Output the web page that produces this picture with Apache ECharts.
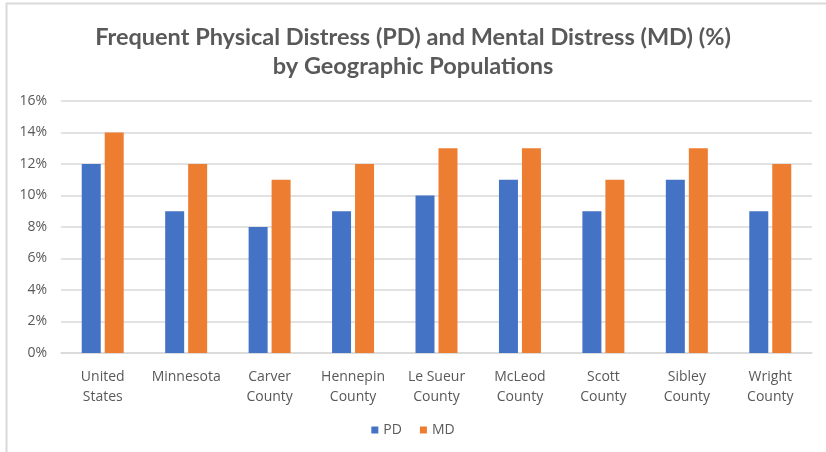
<!DOCTYPE html>
<html>
<head>
<meta charset="utf-8">
<script src="https://cdn.jsdelivr.net/npm/echarts@6/dist/echarts.min.js"></script>
<style>
  html, body { margin: 0; padding: 0; background: #fff; }
  #chart { width: 826px; height: 452px; }
</style>
</head>
<body>
<div id="chart"></div>
<script>
// Geographic populations and their distress rates (%)
const categories = ['United\nStates', 'Minnesota', 'Carver\nCounty', 'Hennepin\nCounty', 'Le Sueur\nCounty', 'McLeod\nCounty', 'Scott\nCounty', 'Sibley\nCounty', 'Wright\nCounty'];
const pdValues = [12, 9, 8, 9, 10, 11, 9, 11, 9];
const mdValues = [14, 12, 11, 12, 13, 13, 11, 13, 12];
const yTicks = { min: 0, max: 16, interval: 2 };

const textColor = '#595959';
const chart = echarts.init(document.getElementById('chart'));
chart.setOption({
  backgroundColor: '#ffffff',
  animation: false,
  title: {
    text: 'Frequent Physical Distress (PD) and Mental Distress (MD) (%)\nby Geographic Populations',
    left: 'center',
    top: 18,
    textStyle: {
      fontFamily: 'Lato',
      fontWeight: 'bold',
      fontSize: 23.5,
      lineHeight: 29,
      color: textColor
    }
  },
  legend: {
    bottom: 10,
    left: 'center',
    itemWidth: 7,
    itemHeight: 7,
    itemGap: 18,
    icon: 'rect',
    textStyle: { fontFamily: 'Open Sans', fontSize: 14, color: textColor }
  },
  grid: { left: 61, right: 14, top: 101, bottom: 99 },
  xAxis: {
    type: 'category',
    data: categories,
    axisLine: { lineStyle: { color: '#d9d9d9', width: 1.5 } },
    axisTick: { show: false },
    axisLabel: {
      interval: 0,
      margin: 14,
      lineHeight: 20,
      fontFamily: 'Open Sans',
      fontSize: 14,
      color: textColor
    }
  },
  yAxis: {
    type: 'value',
    min: yTicks.min,
    max: yTicks.max,
    interval: yTicks.interval,
    axisLine: { show: false },
    axisTick: { show: false },
    splitLine: { lineStyle: { color: '#d9d9d9', width: 1.5 } },
    axisLabel: {
      margin: 14,
      fontFamily: 'Open Sans',
      fontSize: 14,
      color: textColor,
      formatter: v => v + '%'
    }
  },
  series: [
    {
      name: 'PD', type: 'bar', data: pdValues,
      barWidth: 19, barGap: '21%',
      itemStyle: { color: '#4472C4' }
    },
    {
      name: 'MD', type: 'bar', data: mdValues,
      barWidth: 19,
      itemStyle: { color: '#ED7D31' }
    }
  ],
  graphic: [
    { type: 'line', shape: { x1: 6, y1: 3.5, x2: 826, y2: 3.5 }, style: { stroke: '#d9d9d9', lineWidth: 2 } },
    { type: 'line', shape: { x1: 6.5, y1: 3, x2: 6.5, y2: 452 }, style: { stroke: '#d9d9d9', lineWidth: 2 } }
  ]
});
</script>
</body>
</html>
